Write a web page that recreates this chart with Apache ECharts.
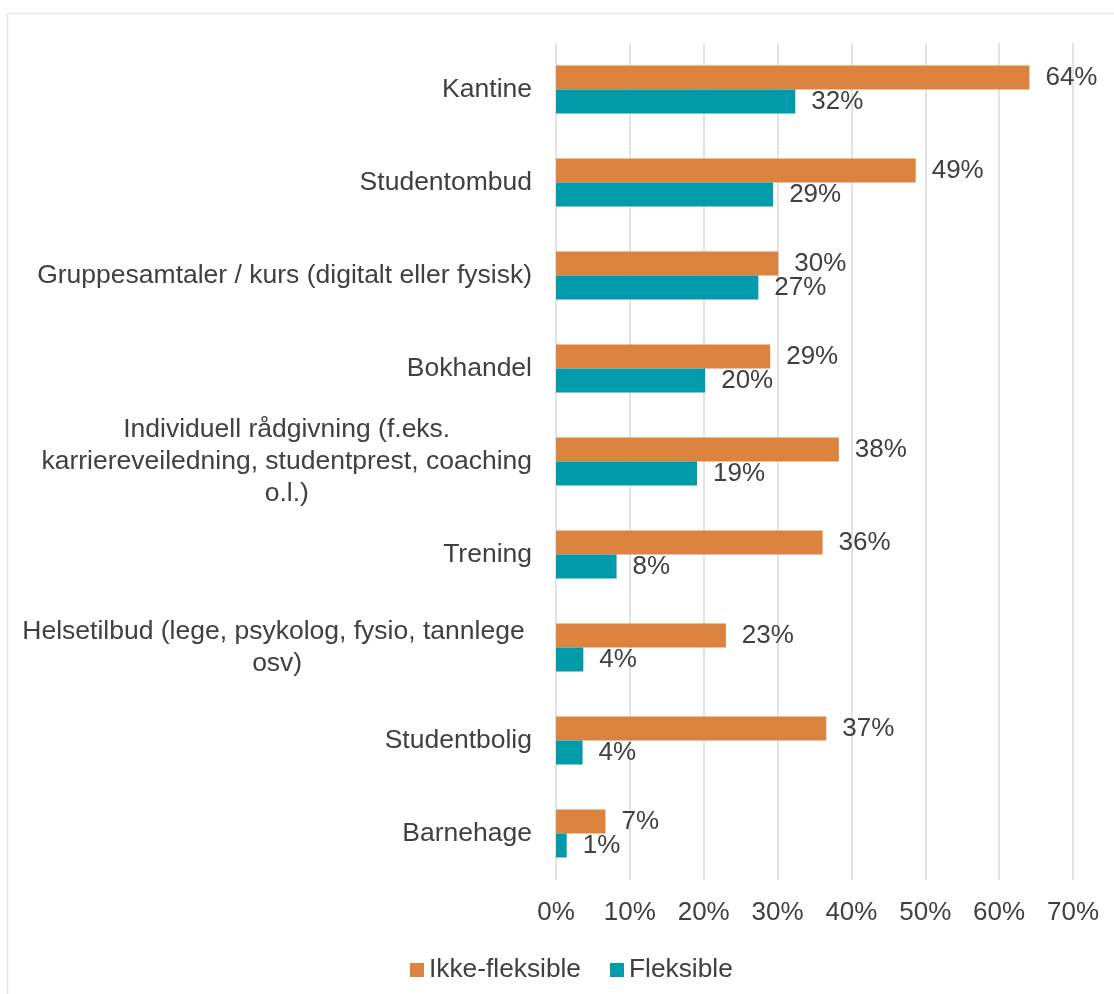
<!DOCTYPE html>
<html>
<head>
<meta charset="utf-8">
<script src="https://cdn.jsdelivr.net/npm/echarts@6/dist/echarts.min.js"></script>
<style>
  html, body { margin: 0; padding: 0; background: #fff; }
  #chart { width: 1114px; height: 994px; }
</style>
</head>
<body>
<div id="chart"></div>
<script>
// categories top to bottom
var categories = [
  'Kantine',
  'Studentombud',
  'Gruppesamtaler / kurs (digitalt eller fysisk)',
  'Bokhandel',
  'Individuell rådgivning (f.eks.\nkarriereveiledning, studentprest, coaching\no.l.)',
  'Trening',
  'Helsetilbud (lege, psykolog, fysio, tannlege \nosv)',
  'Studentbolig',
  'Barnehage'
]
var ikkeFleksible = [64.1, 48.7, 30.1, 29.0, 38.3, 36.1, 23.0, 36.6, 6.7]
var fleksible = [32.4, 29.4, 27.4, 20.2, 19.1, 8.2, 3.7, 3.6, 1.45]
var seriesNames = ['Ikke-fleksible', 'Fleksible']
var xTicks = [0, 10, 20, 30, 40, 50, 60, 70]

var textColor = '#404040'
var font = '"Liberation Sans", Arial, sans-serif'

var labelOption = {
  show: true,
  position: 'right',
  distance: 16,
  fontSize: 26,
  fontFamily: font,
  color: textColor,
  formatter: function(p) {
    return Math.round(p.value) + '%'
  }
}

var chart = echarts.init(document.getElementById('chart'))
chart.setOption({
  color: ['#DC843F', '#019BAA'],
  animation: false,
  graphic: [{
    type: 'rect',
    shape: { x: 7.5, y: 13.5, width: 1200, height: 1200 },
    style: { fill: 'none', stroke: '#e6e6e6', lineWidth: 1.5 },
    silent: true
  }],
  grid: {
    left: 556,
    right: 41,
    top: 43,
    bottom: 114,
    containLabel: false,
    outerBoundsMode: 'none'
  },
  legend: {
    data: seriesNames,
    left: 405,
    top: 952,
    icon: 'rect',
    itemWidth: 14,
    itemHeight: 14,
    itemGap: 29,
    textStyle: { fontSize: 26.3, fontFamily: font, color: textColor }
  },
  xAxis: {
    type: 'value',
    min: xTicks[0],
    max: xTicks[xTicks.length - 1],
    interval: 10,
    axisLine: { show: false },
    axisTick: { show: false },
    axisLabel: {
      formatter: '{value}%',
      fontSize: 26,
      fontFamily: font,
      color: textColor,
      margin: 20
    },
    splitLine: { show: true, lineStyle: { color: '#e3e3e3', width: 2 } }
  },
  yAxis: {
    type: 'category',
    inverse: true,
    data: categories,
    axisLine: { show: false },
    axisTick: { show: false },
    axisLabel: {
      margin: 24,
      fontSize: 26.5,
      fontFamily: font,
      color: textColor,
      lineHeight: 32,
      formatter: function(v) {
        return v.split('\n').map(function(l) { return '{c|' + l + '}' }).join('\n')
      },
      rich: {
        c: {
          align: 'center',
          fontSize: 26.5,
          fontFamily: font,
          color: textColor,
          lineHeight: 32
        }
      }
    }
  },
  series: [
    {
      name: seriesNames[0],
      type: 'bar',
      barWidth: 24,
      barGap: '0%',
      label: labelOption,
      data: ikkeFleksible
    },
    {
      name: seriesNames[1],
      type: 'bar',
      barWidth: 24,
      barGap: '0%',
      label: labelOption,
      data: fleksible
    }
  ]
})
</script>
</body>
</html>
